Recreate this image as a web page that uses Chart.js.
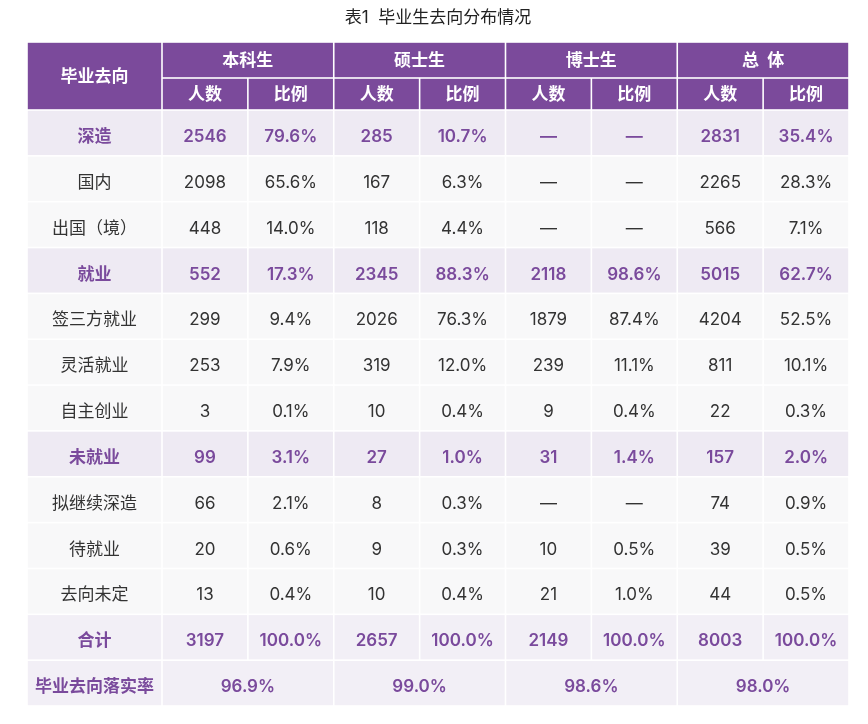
<!DOCTYPE html>
<html>
<head>
<meta charset="utf-8">
<script src="https://cdn.jsdelivr.net/npm/chart.js@4.4.1/dist/chart.umd.min.js"></script>
<style>
    body { margin: 0; background: #ffffff; }
    #wrap { width: 868px; height: 724px; }
</style>
</head>
<body>
<div id="wrap"><canvas id="tableChart" width="868" height="724"></canvas></div>
<script>
// Table data
const groups = ['本科生', '硕士生', '博士生', '总  体'];
const subHeaders = ['人数', '比例'];
const rowLabels = ['深造', '国内', '出国（境）', '就业', '签三方就业', '灵活就业', '自主创业',
    '未就业', '拟继续深造', '待就业', '去向未定', '合计'];
const categoryRows = ['深造', '就业', '未就业'];
const totalLabel = '合计';

const undergradCount = [2546, 2098, 448, 552, 299, 253, 3, 99, 66, 20, 13, 3197];
const undergradShare = [79.6, 65.6, 14.0, 17.3, 9.4, 7.9, 0.1, 3.1, 2.1, 0.6, 0.4, 100.0];
const masterCount = [285, 167, 118, 2345, 2026, 319, 10, 27, 8, 9, 10, 2657];
const masterShare = [10.7, 6.3, 4.4, 88.3, 76.3, 12.0, 0.4, 1.0, 0.3, 0.3, 0.4, 100.0];
const doctorCount = [null, null, null, 2118, 1879, 239, 9, 31, null, 10, 21, 2149];
const doctorShare = [null, null, null, 98.6, 87.4, 11.1, 0.4, 1.4, null, 0.5, 1.0, 100.0];
const totalCount = [2831, 2265, 566, 5015, 4204, 811, 22, 157, 74, 39, 44, 8003];
const totalShare = [35.4, 28.3, 7.1, 62.7, 52.5, 10.1, 0.3, 2.0, 0.9, 0.5, 0.5, 100.0];

const rateLabel = '毕业去向落实率';
const placementRate = [96.9, 99.0, 98.6, 98.0];

const seriesCount = [undergradCount, masterCount, doctorCount, totalCount];
const seriesShare = [undergradShare, masterShare, doctorShare, totalShare];

// Layout: column widths and row heights in scale units
const colUnits = [1.572, 1, 1, 1, 1, 1, 1, 1, 1];
const rowUnits = [36, 32].concat(new Array(13).fill(45.85));

const colEdges = colUnits.reduce((acc, w) => { acc.push(acc[acc.length - 1] + w); return acc; }, [0]);
const rowEdges = rowUnits.reduce((acc, h) => { acc.push(acc[acc.length - 1] + h); return acc; }, [0]);

const FONT = 'Inter, "Noto Sans CJK SC", sans-serif';
const PURPLE = '#7b4a9b';
const PURPLE_TEXT = '#7a4a9c';
const DARK_TEXT = '#333333';

function fmtCount(v) { return v === null ? '—' : String(v); }
function fmtShare(v) { return v === null ? '—' : v.toFixed(1) + '%'; }

// Build the list of cells: column span, row span, text, style
function buildCells() {
    const cells = [];
    const header = { fill: PURPLE, color: '#ffffff', weight: 'bold', dy: 0 };

    cells.push(Object.assign({ c0: 0, c1: 1, r0: 0, r1: 2, text: '毕业去向' }, header));
    groups.forEach((g, i) => {
        cells.push(Object.assign({ c0: 1 + 2 * i, c1: 3 + 2 * i, r0: 0, r1: 1, text: g }, header));
        subHeaders.forEach((s, j) => {
            cells.push(Object.assign({ c0: 1 + 2 * i + j, c1: 2 + 2 * i + j, r0: 1, r1: 2, text: s }, header));
        });
    });

    rowLabels.forEach((label, k) => {
        const r = 2 + k;
        let style;
        if (categoryRows.includes(label)) {
            style = { fill: '#eeeaf3', color: PURPLE_TEXT, weight: '600', dy: 3 };
        } else if (label === totalLabel) {
            style = { fill: '#f2eff6', color: PURPLE_TEXT, weight: '600', dy: 3 };
        } else {
            style = { fill: '#f8f8f9', color: DARK_TEXT, weight: 'normal', dy: 3 };
        }
        cells.push(Object.assign({ c0: 0, c1: 1, r0: r, r1: r + 1, text: label }, style));
        seriesCount.forEach((series, i) => {
            cells.push(Object.assign({ c0: 1 + 2 * i, c1: 2 + 2 * i, r0: r, r1: r + 1,
                text: fmtCount(series[k]) }, style));
            cells.push(Object.assign({ c0: 2 + 2 * i, c1: 3 + 2 * i, r0: r, r1: r + 1,
                text: fmtShare(seriesShare[i][k]) }, style));
        });
    });

    const lastRow = 2 + rowLabels.length;
    const rateStyle = { fill: '#f2eff6', color: PURPLE_TEXT, weight: '600', dy: 3 };
    cells.push(Object.assign({ c0: 0, c1: 1, r0: lastRow, r1: lastRow + 1, text: rateLabel }, rateStyle));
    placementRate.forEach((v, i) => {
        cells.push(Object.assign({ c0: 1 + 2 * i, c1: 3 + 2 * i, r0: lastRow, r1: lastRow + 1,
            text: fmtShare(v) }, rateStyle));
    });
    return cells;
}

const tableCells = buildCells();

// Plugin that paints the table cells through the chart scales
const tablePlugin = {
    id: 'tablePlugin',
    afterDraw(chart) {
        const { ctx, scales: { x, y } } = chart;
        const gap = 0.8;
        ctx.save();
        tableCells.forEach(cell => {
            const left = x.getPixelForValue(colEdges[cell.c0]);
            const right = x.getPixelForValue(colEdges[cell.c1]);
            const top = y.getPixelForValue(rowEdges[cell.r0]);
            const bottom = y.getPixelForValue(rowEdges[cell.r1]);
            ctx.fillStyle = cell.fill;
            ctx.fillRect(left + gap, top + gap, right - left - 2 * gap, bottom - top - 2 * gap);

            ctx.fillStyle = cell.color;
            ctx.font = cell.weight + ' 17px ' + FONT;
            ctx.textAlign = 'center';
            ctx.textBaseline = 'middle';
            ctx.fillText(cell.text, (left + right) / 2, (top + bottom) / 2 + 1 + cell.dy);
        });
        ctx.restore();
    }
};

new Chart(document.getElementById('tableChart'), {
    type: 'scatter',
    data: { datasets: [] },
    options: {
        responsive: false,
        animation: false,
        layout: { padding: { left: 27, right: 19, top: 0, bottom: 18 } },
        scales: {
            x: { type: 'linear', display: false, min: 0, max: colEdges[colEdges.length - 1] },
            y: { type: 'linear', display: false, reverse: true, min: 0, max: rowEdges[rowEdges.length - 1] }
        },
        plugins: {
            legend: { display: false },
            tooltip: { enabled: false },
            title: {
                display: true,
                text: '表1  毕业生去向分布情况',
                color: '#222222',
                font: { family: FONT, size: 17, weight: 'normal', lineHeight: 1.2 },
                padding: { top: 8, bottom: 13.6 }
            }
        }
    },
    plugins: [tablePlugin]
});
</script>
</body>
</html>
